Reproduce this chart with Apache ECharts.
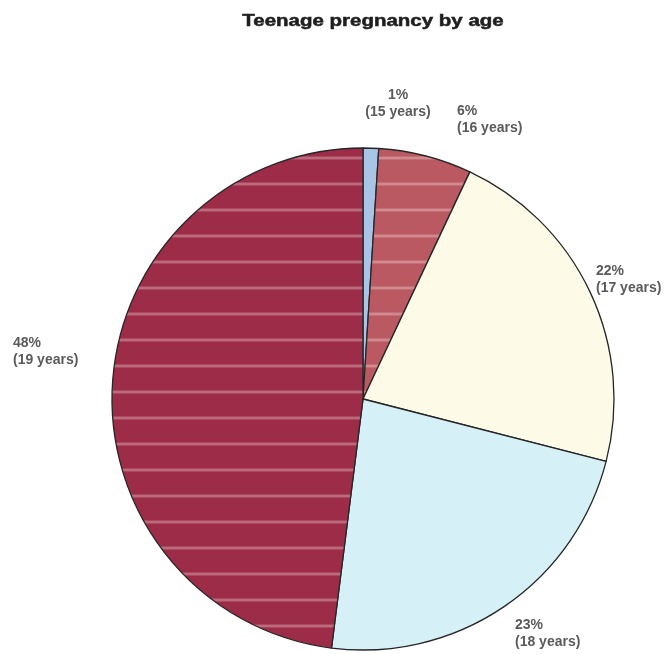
<!DOCTYPE html>
<html>
<head>
<meta charset="utf-8">
<script src="https://cdn.jsdelivr.net/npm/echarts@6/dist/echarts.min.js"></script>
<style>
  html, body { margin: 0; padding: 0; background: #ffffff; }
  #chart { width: 669px; height: 654px; }
</style>
</head>
<body>
<div id="chart"></div>
<script>
// Age groups and their share of teenage pregnancies (%)
var ages = ['15 years', '16 years', '17 years', '18 years', '19 years'];
var shares = [1, 6, 22, 23, 48];

// Horizontal pin-stripe fill used on the red slices
function stripeFill(base, stripe) {
  var c = document.createElement('canvas');
  c.width = 8;
  c.height = 26;
  var g = c.getContext('2d');
  g.fillStyle = base;
  g.fillRect(0, 0, 8, 26);
  g.fillStyle = stripe;
  g.fillRect(0, 1, 8, 2);
  g.globalAlpha = 0.45;
  g.fillRect(0, 0, 8, 1);
  g.fillRect(0, 3, 8, 1);
  return { image: c, repeat: 'repeat' };
}

var fills = [
  '#a9c4e4',
  stripeFill('#bb5962', '#d08a8e'),
  '#fdfbe8',
  '#d6f0f8',
  stripeFill('#9c2c48', '#bc6a7e')
];

// Where each two-line label sits (block centre)
var labelSpots = [
  { x: 398, y: 104, align: 'center' },
  { x: 457, y: 120, align: 'left' },
  { x: 596, y: 280, align: 'left' },
  { x: 515, y: 634, align: 'left' },
  { x: 13,  y: 352, align: 'left' }
];

var chart = echarts.init(document.getElementById('chart'), null, { renderer: 'canvas' });

chart.setOption({
  animation: false,
  backgroundColor: '#ffffff',
  graphic: [{
    type: 'text',
    x: 373,
    y: 22,
    scaleX: 1.28,
    style: {
      text: 'Teenage pregnancy by age',
      x: 0,
      y: 0,
      align: 'center',
      verticalAlign: 'middle',
      font: 'bold 16px "Liberation Sans", Arial, sans-serif',
      fill: '#1e1e1e',
      stroke: '#1e1e1e',
      lineWidth: 0.5
    }
  }],
  series: [{
    type: 'pie',
    center: [363, 399],
    radius: 251,
    startAngle: 90,
    clockwise: true,
    avoidLabelOverlap: false,
    data: ages.map(function (name, i) {
      return { name: name, value: shares[i], itemStyle: { color: fills[i] } };
    }),
    itemStyle: {
      borderColor: '#262626',
      borderWidth: 1.3
    },
    label: {
      show: true,
      position: 'outside',
      formatter: '{c}%\n({b})',
      fontFamily: '"Liberation Sans", Arial, sans-serif',
      fontWeight: 'bold',
      fontSize: 14,
      lineHeight: 17,
      color: '#5a5a5a'
    },
    labelLine: { show: false },
    labelLayout: function (p) {
      var s = labelSpots[p.dataIndex];
      return { x: s.x, y: s.y, align: s.align, verticalAlign: 'middle' };
    },
    emphasis: { disabled: true }
  }]
});
</script>
</body>
</html>
